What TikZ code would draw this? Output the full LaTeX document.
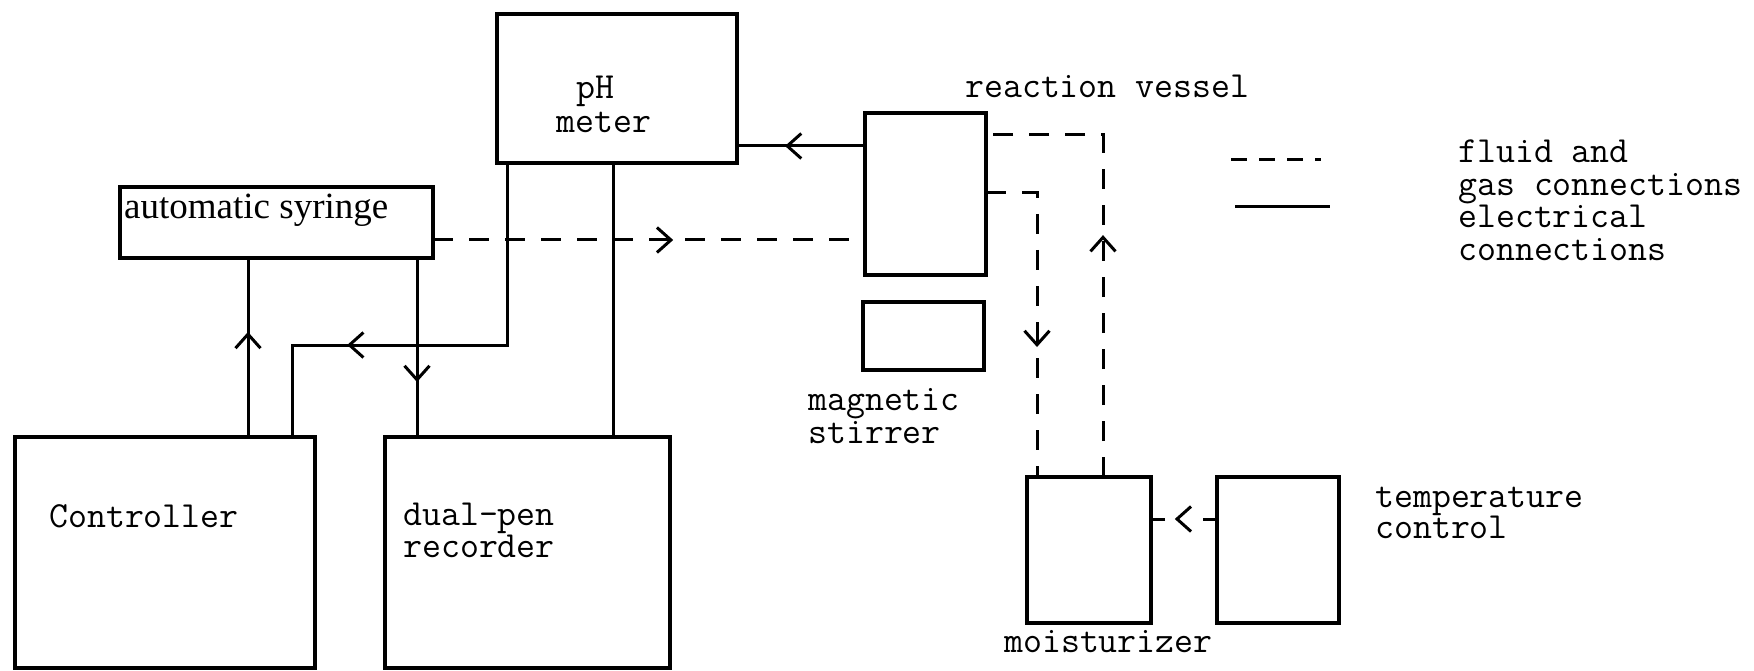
\documentclass[tikz,border=0pt]{standalone}
\usepackage{fontspec}
\newfontfamily\syrfont{Liberation Serif}
\usetikzlibrary{arrows.meta,decorations.markings,calc}
\begin{document}
\begin{tikzpicture}[x=1pt,y=-1pt,
  box/.style={draw, line width=3.5pt, inner sep=0pt, outer sep=0pt},
  wire/.style={line width=3pt},
  fluid/.style={line width=3pt, dash pattern=on 20pt off 16pt},
  midarrow/.style={postaction={decorate, decoration={markings,
     mark=at position #1 with {\arrow{Straight Barb[length=14pt,width=25pt]}}}}},
  lbl/.style={anchor=base west, inner sep=0pt, font=\ttfamily\fontsize{36.8}{38}\selectfont}
]
\useasboundingbox (0,0) rectangle (1754,671);
% boxes
\node[box, minimum width=240pt, minimum height=149pt] (ph) at (617,88.5) {};
\node[box, minimum width=313pt, minimum height=71pt] (syr) at (276.5,222.5) {};
\node[box, minimum width=121pt, minimum height=162pt] (ves) at (925.5,194) {};
\node[box, minimum width=121pt, minimum height=68pt] (stir) at (923.5,336) {};
\node[box, minimum width=300pt, minimum height=231pt] (ctrl) at (165,552.5) {};
\node[box, minimum width=285pt, minimum height=231pt] (rec) at (527.5,552.5) {};
\node[box, minimum width=124pt, minimum height=146pt] (moist) at (1089,550) {};
\node[box, minimum width=122pt, minimum height=146pt] (temp) at (1278,550) {};
% labels
\node[lbl] (tph) at (576,99) {pH};
\node[lbl] (tmeter) at (556,133) {meter};
\node[lbl] (tves) at (965,98) {reaction vessel};
\node[anchor=base west, inner sep=0pt, font=\syrfont\fontsize{37}{40}\selectfont] (tsyr) at (124,219) {automatic syringe};
\node[lbl] (tctrl) at (49,527) {Controller};
\node[lbl] (tdual) at (403,525) {dual-pen};
\node[lbl] (trec) at (403,557) {recorder};
\node[lbl] (tmag) at (808,410) {magnetic};
\node[lbl] (tstir) at (808,443) {stirrer};
\node[lbl] (ttemp) at (1375,507) {temperature};
\node[lbl] (tcontrol) at (1375,538) {control};
\node[lbl] (tmoist) at (1004,652) {moisturizer};
\node[lbl] (tfluid) at (1458,163) {fluid and};
\node[lbl] (tgas) at (1458,196) {gas connections};
\node[lbl] (telec) at (1458,228) {electrical};
\node[lbl] (tconn) at (1458,261) {connections};
% legend lines
\coordinate (la) at (1231,160);
\coordinate (lb) at (1321,160);
\coordinate (lc) at (1235,207);
\coordinate (ld) at (1330,207);
\draw[line width=3pt, dash pattern=on 16pt off 12pt] (la) -- (lb);
\draw[wire] (lc) -- (ld);
% electrical connections
\draw[wire, midarrow=0.587] ($(ctrl.north west)+(233,0)$) coordinate (c1) -- (c1 |- syr.south);
\draw[wire, midarrow=0.699] ($(ph.south west)+(10,0)$) -- ++(0,182) -| ($(ctrl.north west)+(277,0)$);
\draw[wire, midarrow=0.693] ($(syr.south west)+(297,0)$) coordinate (s1) -- (s1 |- rec.north);
\draw[wire] ($(ph.south west)+(116,0)$) coordinate (p2) -- (p2 |- rec.north);
\draw[wire, midarrow=0.625] ($(ves.north west)+(0,33)$) coordinate (v1) -- (v1 -| ph.east);
% fluid and gas connections
\draw[fluid, midarrow=0.556] ($(syr.north east)+(0,53)$) coordinate (s2) -- (s2 -| ves.west);
\draw[fluid, midarrow=0.612] ($(ves.north east)+(0,80)$) -| ($(moist.north west)+(10,0)$);
\draw[fluid, midarrow=0.527] ($(moist.north west)+(76,0)$) |- ($(ves.north east)+(0,22)$);
\draw[line width=3pt, dash pattern=on 14pt off 38pt on 14pt off 100pt, midarrow=0.64] ($(temp.west)+(0,-31)$) coordinate (t1) -- (t1 -| moist.east);
\end{tikzpicture}
\end{document}
